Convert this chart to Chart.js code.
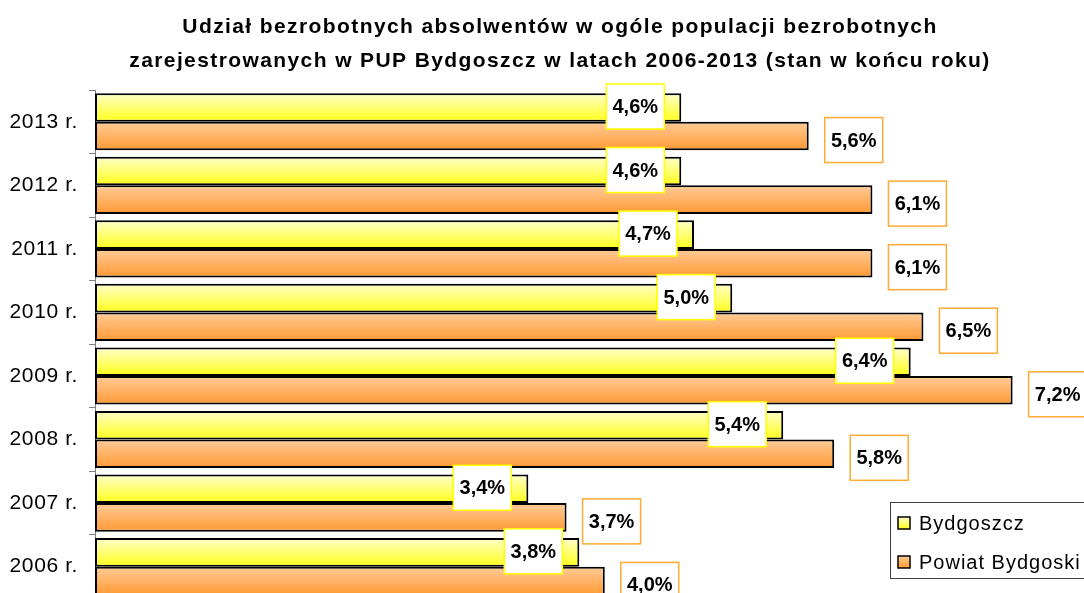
<!DOCTYPE html>
<html>
<head>
<meta charset="utf-8">
<script src="https://cdn.jsdelivr.net/npm/chart.js@4"></script>
<style>
  html, body { margin: 0; padding: 0; background: #fff; overflow: hidden; }
  #wrap { width: 1084px; height: 622px; }
</style>
</head>
<body>
<div id="wrap"><canvas id="chart"></canvas></div>
<script>
// lata od góry do dołu
const years = ['2013 r.', '2012 r.', '2011 r.', '2010 r.', '2009 r.', '2008 r.', '2007 r.', '2006 r.'];
const bydgoszcz = [4.6, 4.6, 4.7, 5.0, 6.4, 5.4, 3.4, 3.8];
const powiat = [5.6, 6.1, 6.1, 6.5, 7.2, 5.8, 3.7, 4.0];
const seriesNames = ['Bydgoszcz', 'Powiat Bydgoski'];
const titleLines = [
  'Udział bezrobotnych absolwentów w ogóle populacji bezrobotnych',
  'zarejestrowanych w PUP Bydgoszcz w latach 2006-2013 (stan w końcu roku)'
];

const FONT = '"Liberation Sans", Arial, sans-serif';
const YELLOW = ['#ffffcc', '#ffff1a'];
const ORANGE = ['#ffcc99', '#ff9933'];
const CAT_PCT = 0.9;

// pionowy gradient dla każdego słupka, liczony z osi kategorii
function barFill(context, colors, upper) {
  const chart = context.chart;
  const y = chart.scales.y;
  if (!chart.chartArea || !y) return colors[1];
  const c = y.getPixelForValue(context.dataIndex);
  const half = y.height / years.length * CAT_PCT / 2;
  const y0 = upper ? c - half : c;
  const y1 = upper ? c : c + half;
  const g = chart.ctx.createLinearGradient(0, y0, 0, y1);
  g.addColorStop(0, colors[0]);
  g.addColorStop(1, colors[1]);
  return g;
}

const fmt = v => v.toFixed(1).replace('.', ',') + '%';

// lekko rozstrzelony tekst osi, jak w oryginale
const spacing = {
  id: 'spacing',
  beforeDraw(chart) { chart.ctx.letterSpacing = '0.6px'; }
};

// tytuł rysowany ręcznie (potrzebny odstęp między literami)
const titleText = {
  id: 'titleText',
  afterDraw(chart) {
    const ctx = chart.ctx;
    ctx.save();
    ctx.letterSpacing = '1.4px';
    ctx.font = 'bold 21px ' + FONT;
    ctx.fillStyle = '#000';
    ctx.textAlign = 'center';
    ctx.textBaseline = 'alphabetic';
    ctx.fillText(titleLines[0], 560, 33);
    ctx.fillText(titleLines[1], 560, 67);
    ctx.restore();
  }
};

// etykiety w ramkach
const boxLabels = {
  id: 'boxLabels',
  afterDatasetsDraw(chart) {
    const ctx = chart.ctx;
    ctx.save();
    ctx.letterSpacing = '0px';
    ctx.font = 'bold 20px ' + FONT;
    ctx.textAlign = 'center';
    ctx.textBaseline = 'middle';
    chart.data.datasets.forEach((ds, di) => {
      const meta = chart.getDatasetMeta(di);
      meta.data.forEach((el, i) => {
        const w = 58, h = 45;
        let cx, cy;
        if (di === 0) { cx = el.x - 46; cy = el.y - 1; }
        else { cx = el.x + 45; cy = el.y + 4; }
        ctx.fillStyle = '#fff';
        ctx.fillRect(cx - w / 2, cy - h / 2, w, h);
        ctx.lineWidth = 1.5;
        ctx.strokeStyle = di === 0 ? '#ffff00' : '#ffaa33';
        ctx.strokeRect(cx - w / 2, cy - h / 2, w, h);
        ctx.fillStyle = '#000';
        ctx.fillText(fmt(ds.data[i]), cx, cy + 1);
      });
    });
    ctx.restore();
  }
};

// legenda w prawym dolnym rogu
const boxLegend = {
  id: 'boxLegend',
  afterDraw(chart) {
    const ctx = chart.ctx;
    ctx.save();
    ctx.fillStyle = '#fff';
    ctx.fillRect(890, 502, 200, 76);
    ctx.strokeStyle = '#404040';
    ctx.lineWidth = 1;
    ctx.strokeRect(890.5, 502.5, 200, 76);
    const rows = [[523, YELLOW], [562, ORANGE]];
    ctx.letterSpacing = '1px';
    ctx.font = '20px ' + FONT;
    ctx.textBaseline = 'middle';
    rows.forEach(([y, col], i) => {
      const g = ctx.createLinearGradient(0, y - 6, 0, y + 6);
      g.addColorStop(0, col[0]);
      g.addColorStop(1, col[1]);
      ctx.fillStyle = g;
      ctx.fillRect(898, y - 6, 12, 12);
      ctx.strokeStyle = '#000';
      ctx.lineWidth = 1.5;
      ctx.strokeRect(898, y - 6, 12, 12);
      ctx.fillStyle = '#000';
      ctx.fillText(seriesNames[i], 919, y + 1);
    });
    ctx.restore();
  }
};

const chart = new Chart(document.getElementById('chart'), {
  type: 'bar',
  data: {
    labels: years,
    datasets: [{
      label: seriesNames[0],
      data: bydgoszcz,
      backgroundColor: c => barFill(c, YELLOW, true),
      borderColor: '#000',
      borderWidth: 2,
      borderSkipped: false
    }, {
      label: seriesNames[1],
      data: powiat,
      backgroundColor: c => barFill(c, ORANGE, false),
      borderColor: '#000',
      borderWidth: 2,
      borderSkipped: false
    }]
  },
  options: {
    indexAxis: 'y',
    responsive: true,
    maintainAspectRatio: false,
    animation: false,
    datasets: { bar: { categoryPercentage: CAT_PCT, barPercentage: 1.0 } },
    layout: { padding: { left: 0, right: 0, top: 90, bottom: 0 } },
    scales: {
      x: { display: false, min: 0, max: 7.76 },
      y: {
        grid: { offset: true, drawOnChartArea: false, tickLength: 6, color: '#808080' },
        border: { color: '#808080' },
        ticks: { color: '#000', padding: 11, font: { family: FONT, size: 21 } },
        afterFit: s => { s.width = 95; }
      }
    },
    plugins: {
      legend: { display: false },
      tooltip: { enabled: false },
      title: { display: false }
    }
  },
  plugins: [spacing, titleText, boxLabels, boxLegend]
});
</script>
</body>
</html>
